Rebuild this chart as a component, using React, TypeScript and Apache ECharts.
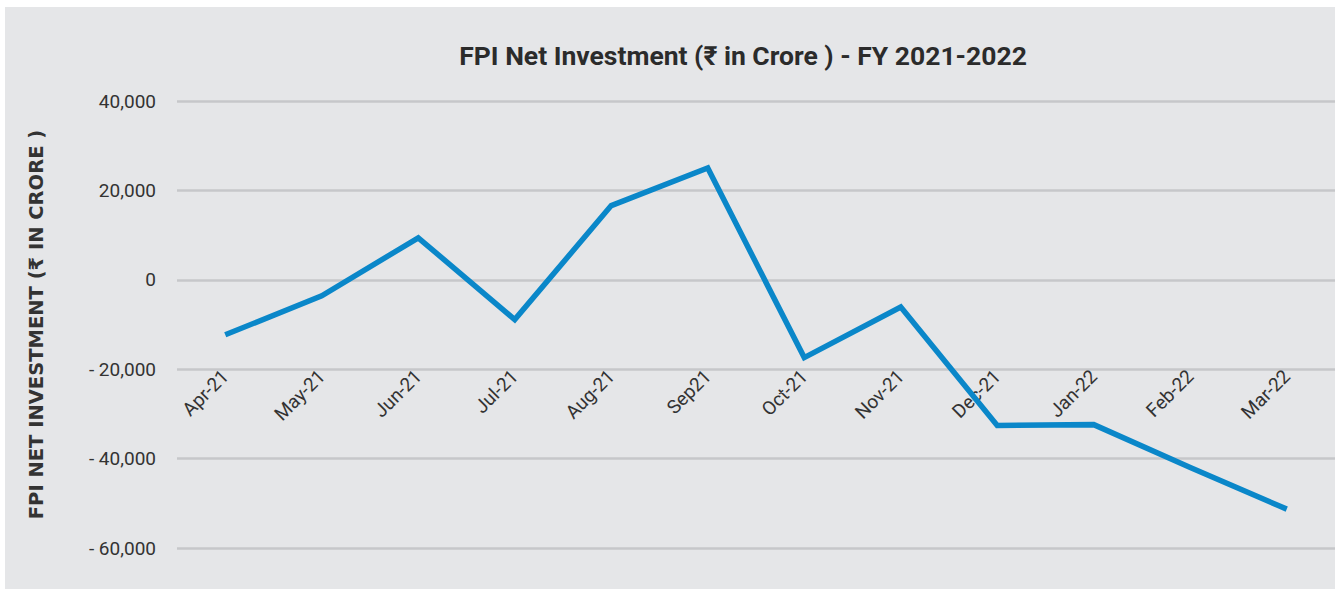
import React, { useEffect, useRef } from "react";
import * as echarts from "echarts";

const months = ["Apr-21", "May-21", "Jun-21", "Jul-21", "Aug-21", "Sep21", "Oct-21", "Nov-21", "Dec-21", "Jan-22", "Feb-22", "Mar-22"];
const netInvestment = [-12300, -3600, 9400, -8900, 16600, 25000, -17400, -6100, -32600, -32400, -42000, -51300];
const yTicks = { min: -60000, max: 40000, interval: 20000 };
const titleText = "FPI Net Investment (\u20B9 in Crore ) - FY 2021-2022";
const yAxisName = "FPI NET INVESTMENT (\u20B9 IN CRORE )";

function fmt(v: number): string {
  const s = Math.abs(v).toString().replace(/\B(?=(\d{3})+(?!\d))/g, ",");
  return v < 0 ? "- " + s : s;
}

export default function App() {
  const ref = useRef<HTMLDivElement>(null);
  useEffect(() => {
    document.body.style.margin = "0";
    const chart = echarts.init(ref.current!, null, { renderer: "svg" });
    chart.setOption({
      animation: false,
      backgroundColor: "#ffffff",
      graphic: [
        {
          type: "rect",
          z: -10,
          silent: true,
          shape: { x: 5, y: 7, width: 1330, height: 582 },
          style: { fill: "#e5e6e8" },
        },
      ],
      title: {
        text: titleText,
        left: 738,
        top: 37,
        textAlign: "center",
        textStyle: {
          fontFamily: "Roboto",
          fontWeight: "bold",
          fontSize: 26.5,
          color: "#2b2b2b",
        },
      },
      grid: { left: 177, width: 1176, top: 101, bottom: 42 },
      xAxis: {
        type: "category",
        data: months,
        boundaryGap: true,
        offset: -179,
        axisLine: { show: false },
        axisTick: { show: false },
        axisLabel: {
          rotate: 45,
          margin: 4,
          fontFamily: "Roboto",
          fontSize: 19,
          color: "#333333",
          interval: 0,
        },
      },
      yAxis: {
        type: "value",
        min: yTicks.min,
        max: yTicks.max,
        interval: yTicks.interval,
        name: yAxisName,
        nameLocation: "middle",
        nameGap: 131,
        nameRotate: 90,
        nameTextStyle: {
          fontFamily: "DejaVu Sans",
          fontWeight: "bold",
          fontSize: 19.5,
          color: "#333333",
        },
        axisLine: { show: false },
        axisTick: { show: false },
        axisLabel: {
          margin: 21,
          fontFamily: "Roboto",
          fontSize: 19,
          color: "#333333",
          formatter: (v: number) => fmt(v),
        },
        splitLine: { lineStyle: { color: "#c6c7ca", width: 2.5 } },
      },
      series: [
        {
          type: "line",
          data: netInvestment,
          symbol: "none",
          lineStyle: { color: "#0a87c9", width: 5.5, join: "miter" },
          itemStyle: { color: "#0a87c9" },
        },
      ],
    });
    return () => chart.dispose();
  }, []);
  return <div ref={ref} style={{ width: 1335, height: 590 }} />;
}
